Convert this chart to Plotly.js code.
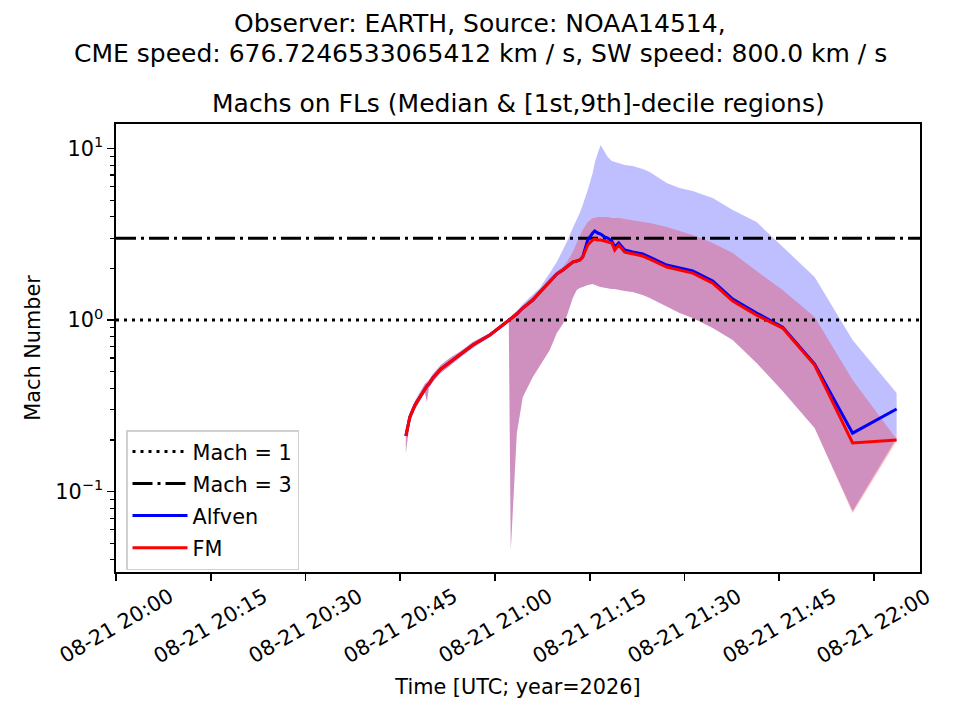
<!DOCTYPE html>
<html>
<head>
<meta charset="utf-8">
<script src="https://cdn.plot.ly/plotly-3.0.1.min.js"></script>
<style>body{margin:0;background:#fff;}</style>
</head>
<body>
<div id="machs" style="width:960px;height:720px;"></div>
<script>
// time stamps of the field-line samples (UTC)
var times = [
  '2026-08-21 20:45:53', '2026-08-21 20:46:31', '2026-08-21 20:47:19', '2026-08-21 20:48:06',
  '2026-08-21 20:48:53', '2026-08-21 20:49:13', '2026-08-21 20:49:32', '2026-08-21 20:50:09',
  '2026-08-21 20:51:25', '2026-08-21 20:52:51', '2026-08-21 20:54:35', '2026-08-21 20:56:29',
  '2026-08-21 20:59:11', '2026-08-21 21:01:52', '2026-08-21 21:02:11', '2026-08-21 21:02:30',
  '2026-08-21 21:03:27', '2026-08-21 21:04:24', '2026-08-21 21:05:59', '2026-08-21 21:07:05',
  '2026-08-21 21:08:40', '2026-08-21 21:09:47', '2026-08-21 21:10:44', '2026-08-21 21:11:22',
  '2026-08-21 21:12:19', '2026-08-21 21:12:56', '2026-08-21 21:13:25', '2026-08-21 21:13:53',
  '2026-08-21 21:14:41', '2026-08-21 21:15:28', '2026-08-21 21:15:47', '2026-08-21 21:16:16',
  '2026-08-21 21:16:44', '2026-08-21 21:17:22', '2026-08-21 21:17:51', '2026-08-21 21:18:29',
  '2026-08-21 21:18:57', '2026-08-21 21:19:35', '2026-08-21 21:20:32', '2026-08-21 21:21:48',
  '2026-08-21 21:23:23', '2026-08-21 21:24:30', '2026-08-21 21:27:11', '2026-08-21 21:29:14',
  '2026-08-21 21:31:18', '2026-08-21 21:34:28', '2026-08-21 21:37:38', '2026-08-21 21:41:25',
  '2026-08-21 21:45:32', '2026-08-21 21:50:36', '2026-08-21 21:56:37', '2026-08-21 22:03:35'
];

// Alfven Mach number: median, 1st and 9th decile
var alfvenMedian = [
  0.211, 0.272, 0.319, 0.356, 0.401, 0.412, 0.424, 0.459, 0.518, 0.569, 0.634, 0.715,
  0.818, 0.974, 1.000, 1.014, 1.084, 1.175, 1.308, 1.450, 1.688, 1.854, 1.957, 2.037,
  2.179, 2.208, 2.238, 2.330, 2.928, 3.216, 3.304, 3.216, 3.173, 3.048, 3.007, 2.887,
  2.665, 2.812, 2.559, 2.492, 2.426, 2.330, 2.093, 2.010, 1.931, 1.688, 1.326, 1.098,
  0.910, 0.554, 0.219, 0.303
];
var alfvenLow = [
  0.168, 0.254, 0.299, 0.337, 0.380, 0.333, 0.401, 0.435, 0.491, 0.539, 0.609, 0.687,
  0.796, 0.948, 0.974, 0.0456, 0.219, 0.356, 0.465, 0.539, 0.669, 0.840, 0.948, 1.055,
  1.344, 1.496, 1.537, 1.557, 1.600, 1.622, 1.600, 1.578, 1.557, 1.537, 1.537, 1.516,
  1.516, 1.496, 1.476, 1.457, 1.399, 1.344, 1.191, 1.098, 1.027, 0.898, 0.765, 0.561,
  0.386, 0.235, 0.0770, 0.205
];
var alfvenHigh = [
  0.228, 0.287, 0.337, 0.375, 0.424, 0.435, 0.447, 0.484, 0.547, 0.600, 0.660, 0.744,
  0.840, 1.000, 1.027, 1.041, 1.128, 1.240, 1.399, 1.540, 1.879, 2.179, 2.559, 2.850,
  3.439, 3.829, 4.206, 4.684, 5.728, 7.196, 8.232, 9.414, 10.48, 9.541, 8.920, 8.454,
  8.342, 8.232, 8.013, 7.907, 7.595, 7.294, 6.294, 5.884, 5.652, 5.145, 4.379, 3.728,
  2.665, 1.781, 0.765, 0.375
];

// fast-magnetosonic Mach number: median, 1st and 9th decile
var fmMedian = [
  0.211, 0.272, 0.319, 0.356, 0.401, 0.412, 0.424, 0.459, 0.518, 0.569, 0.634, 0.715,
  0.818, 0.974, 1.000, 1.014, 1.084, 1.175, 1.308, 1.450, 1.688, 1.854, 1.957, 2.037,
  2.179, 2.208, 2.238, 2.330, 2.737, 2.928, 2.968, 2.928, 2.928, 2.887, 2.850, 2.812,
  2.559, 2.737, 2.492, 2.426, 2.361, 2.268, 2.037, 1.957, 1.879, 1.643, 1.290, 1.069,
  0.898, 0.547, 0.192, 0.200
];
var fmLow = [
  0.168, 0.254, 0.299, 0.337, 0.380, 0.333, 0.401, 0.435, 0.491, 0.539, 0.609, 0.687,
  0.796, 0.948, 0.974, 0.0456, 0.219, 0.356, 0.465, 0.539, 0.669, 0.840, 0.948, 1.055,
  1.344, 1.496, 1.537, 1.557, 1.600, 1.622, 1.600, 1.578, 1.557, 1.537, 1.537, 1.516,
  1.516, 1.496, 1.476, 1.457, 1.399, 1.344, 1.191, 1.098, 1.027, 0.898, 0.765, 0.561,
  0.386, 0.235, 0.0749, 0.197
];
var fmHigh = [
  0.228, 0.287, 0.337, 0.375, 0.424, 0.435, 0.447, 0.484, 0.547, 0.600, 0.660, 0.744,
  0.840, 1.000, 1.027, 1.041, 1.128, 1.207, 1.362, 1.500, 1.758, 1.931, 2.037, 2.179,
  2.492, 2.850, 3.089, 3.348, 3.728, 3.933, 3.933, 3.987, 3.987, 3.987, 3.987, 3.933,
  3.933, 3.933, 3.881, 3.829, 3.728, 3.678, 3.485, 3.304, 3.131, 2.812, 2.459, 1.931,
  1.496, 1.041, 0.447, 0.202
];

var machLevels = [1, 3];
var xStart = '2026-08-21 20:00:00';
var xEnd = '2026-08-21 22:07:17';

// x tick positions and their labels
var xTickTimes = [
  '2026-08-21 20:00', '2026-08-21 20:15', '2026-08-21 20:30', '2026-08-21 20:45',
  '2026-08-21 21:00', '2026-08-21 21:15', '2026-08-21 21:30', '2026-08-21 21:45',
  '2026-08-21 22:00'
];
var xTickLabels = [
  '08-21 20:00', '08-21 20:15', '08-21 20:30', '08-21 20:45', '08-21 21:00',
  '08-21 21:15', '08-21 21:30', '08-21 21:45', '08-21 22:00'
];
var yTickVals = [0.1, 1, 10];
var yTickText = ['10<sup>\u22121</sup>', '10<sup>0</sup>', '10<sup>1</sup>'];

var FONT = 'DejaVu Sans, Liberation Sans, sans-serif';
var PLOT_TOP = 124, PLOT_BOTTOM = 572, PLOT_LEFT = 116, PLOT_RIGHT = 920;
function paperY(px) { return (PLOT_BOTTOM - px) / (PLOT_BOTTOM - PLOT_TOP); }
function paperX(px) { return (px - PLOT_LEFT) / (PLOT_RIGHT - PLOT_LEFT); }

// minor ticks of the log axis (2..9 in each decade)
var minorVals = [];
[0.01, 0.1, 1, 10].forEach(function (d) {
  for (var k = 2; k <= 9; k++) minorVals.push(k * d);
});

var noLine = {width: 0, color: 'rgba(0,0,0,0)'};
var bandAlfLo = {
  x: times, y: alfvenLow, type: 'scatter', mode: 'lines',
  line: noLine, showlegend: false, hoverinfo: 'skip'
};
var bandAlfHi = {
  x: times, y: alfvenHigh, type: 'scatter', mode: 'lines', fill: 'tonexty',
  fillcolor: 'rgba(0,0,255,0.25)', line: noLine, showlegend: false, hoverinfo: 'skip'
};
var bandFmLo = {
  x: times, y: fmLow, type: 'scatter', mode: 'lines',
  line: noLine, showlegend: false, hoverinfo: 'skip'
};
var bandFmHi = {
  x: times, y: fmHigh, type: 'scatter', mode: 'lines', fill: 'tonexty',
  fillcolor: 'rgba(255,0,0,0.25)', line: noLine, showlegend: false, hoverinfo: 'skip'
};

var mach1 = {
  x: [xStart, xEnd], y: [machLevels[0], machLevels[0]], type: 'scatter', mode: 'lines',
  name: 'Mach = 1', legendgroup: 'm1', line: {color: 'black', width: 3, dash: '3px,5px'}
};
var mach3 = {
  x: [xStart, xEnd], y: [machLevels[1], machLevels[1]], type: 'scatter', mode: 'lines',
  name: 'Mach = 3', legendgroup: 'm3', line: {color: 'black', width: 3, dash: '20px,5px,3px,5px'}
};
var alfven = {
  x: times, y: alfvenMedian, type: 'scatter', mode: 'lines',
  name: 'Alfven', legendgroup: 'alf', line: {color: '#0000ff', width: 3}
};
var fm = {
  x: times, y: fmMedian, type: 'scatter', mode: 'lines',
  name: 'FM', legendgroup: 'fm', line: {color: '#ff0000', width: 3}
};

var data = [bandAlfLo, bandAlfHi, bandFmLo, bandFmHi, mach1, mach3, alfven, fm];

var annotations = [
  {text: 'Observer: EARTH, Source: NOAA14514,', xref: 'paper', yref: 'paper',
   x: paperX(480), y: paperY(24), xanchor: 'center', yanchor: 'middle',
   showarrow: false, font: {family: FONT, size: 25}},
  {text: 'CME speed: 676.7246533065412 km / s, SW speed: 800.0 km / s', xref: 'paper', yref: 'paper',
   x: paperX(480), y: paperY(53), xanchor: 'center', yanchor: 'middle',
   showarrow: false, font: {family: FONT, size: 25}},
  {text: 'Machs on FLs (Median & [1st,9th]-decile regions)', xref: 'paper', yref: 'paper',
   x: 0.5, y: paperY(103), xanchor: 'center', yanchor: 'middle',
   showarrow: false, font: {family: FONT, size: 25}}
];
// rotated tick labels centred under their ticks
xTickTimes.forEach(function (t, i) {
  annotations.push({
    text: xTickLabels[i], xref: 'x', yref: 'paper', x: t, y: paperY(626),
    xanchor: 'center', yanchor: 'middle', textangle: -30, showarrow: false,
    font: {family: FONT, size: 20.8}
  });
});

var layout = {
  width: 960, height: 720,
  margin: {l: PLOT_LEFT, r: 960 - PLOT_RIGHT, t: PLOT_TOP, b: 720 - PLOT_BOTTOM, pad: 0},
  paper_bgcolor: 'white', plot_bgcolor: 'white',
  font: {family: FONT, size: 20.8, color: 'black'},
  showlegend: true,
  legend: {
    x: paperX(126), y: paperY(430), xanchor: 'left', yanchor: 'top',
    traceorder: 'grouped', itemwidth: 55, tracegroupgap: 2,
    bgcolor: 'rgba(255,255,255,0.8)', bordercolor: '#d0d0d0', borderwidth: 1.5,
    font: {family: FONT, size: 20.8}
  },
  xaxis: {
    type: 'date', range: [xStart, xEnd],
    tickmode: 'array', tickvals: xTickTimes, showticklabels: false,
    ticks: 'outside', ticklen: 7, tickwidth: 1.6, tickcolor: 'black',
    showline: true, mirror: true, linecolor: 'black', linewidth: 1.6,
    showgrid: false, zeroline: false,
    title: {text: 'Time [UTC; year=2026]', font: {family: FONT, size: 20.8}, standoff: 100}
  },
  yaxis: {
    type: 'log', range: [-1.469, 1.143],
    tickmode: 'array', tickvals: yTickVals, ticktext: yTickText,
    ticks: 'outside', ticklen: 7, tickwidth: 1.6, tickcolor: 'black',
    minor: {tickmode: 'array', tickvals: minorVals, ticks: 'outside', ticklen: 4, tickwidth: 1.2, tickcolor: 'black', showgrid: false},
    showline: true, mirror: true, linecolor: 'black', linewidth: 1.6,
    showgrid: false, zeroline: false,
    tickfont: {family: FONT, size: 20.8},
    title: {text: 'Mach Number', font: {family: FONT, size: 20.8}, standoff: 9}
  },
  annotations: annotations
};

Plotly.newPlot('machs', data, layout, {staticPlot: true});
</script>
</body>
</html>
